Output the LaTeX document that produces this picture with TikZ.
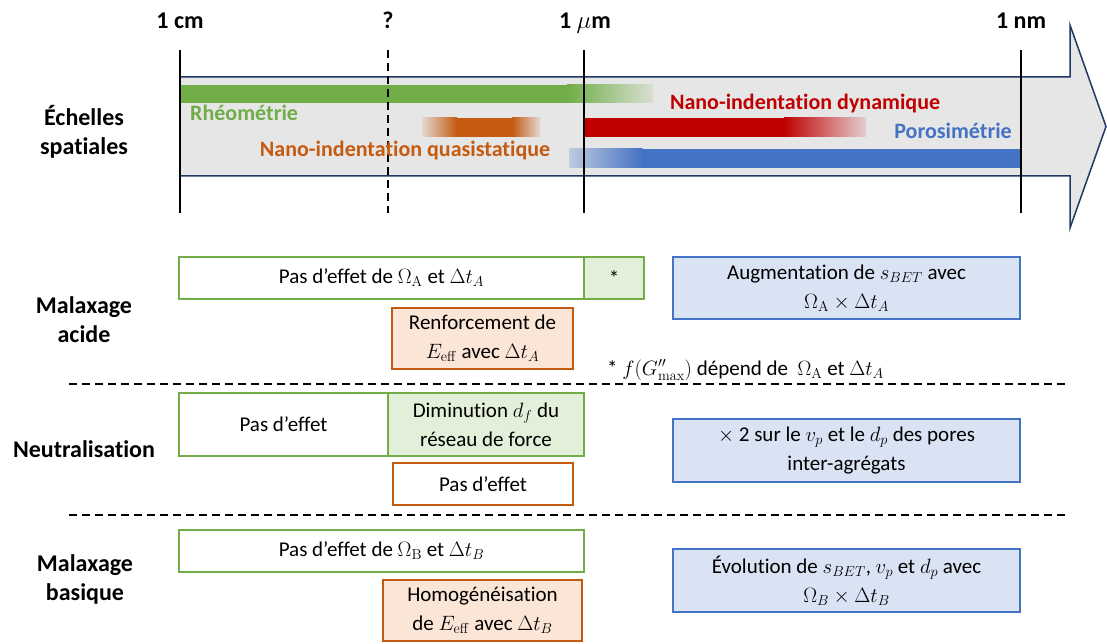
\documentclass[tikz,border=0pt]{standalone}
\usepackage[no-math]{fontspec}
\setmainfont[Ligatures={TeX,CommonOff}]{Carlito}
\DeclareMathSizes{21}{21}{15}{12}
\DeclareMathSizes{24}{24}{17}{12}
\definecolor{bgray}{HTML}{E7E6E6}
\definecolor{navy}{HTML}{203864}
\definecolor{cgreen}{HTML}{70AD47}
\definecolor{lgreen}{HTML}{E2F0D9}
\definecolor{corange}{HTML}{C55A11}
\definecolor{lorange}{HTML}{FBE5D6}
\definecolor{cred}{HTML}{C00000}
\definecolor{cblue}{HTML}{4472C4}
\definecolor{lblue}{HTML}{DAE3F3}
\tikzset{
  box/.style={draw, line width=1.5pt, inner sep=0pt, align=center,
    font=\fontsize{21}{29}\selectfont},
  gbox/.style={box, draw=cgreen, fill=white},
  gfbox/.style={box, draw=cgreen, fill=lgreen},
  obox/.style={box, draw=corange, fill=white},
  ofbox/.style={box, draw=corange, fill=lorange},
  bbox/.style={box, draw=cblue, fill=lblue},
  rowlabel/.style={align=center, inner sep=0pt, font=\fontsize{24}{29}\selectfont\bfseries},
  toplabel/.style={inner sep=0pt, font=\fontsize{24}{28}\selectfont\bfseries},
  barlabel/.style={inner sep=0pt, font=\fontsize{22}{26}\selectfont\bfseries},
  tickline/.style={line width=2.5pt, black},
  sepline/.style={line width=1.5pt, black, dash pattern=on 8pt off 5pt},
}
\begin{document}
\begin{tikzpicture}[x=1pt,y=-1pt]
\useasboundingbox (0,0) rectangle (1107,644);
% big arrow
\draw[navy, line width=1.5pt, fill=bgray, line join=miter]
  (180,77) -- (1070,77) -- (1070,25) -- (1106,126.5) -- (1070,228) -- (1070,176) -- (180,176) -- cycle;
% bars
\fill[cgreen] (180,85) rectangle (567,103);
\shade[left color=cgreen, right color=cgreen!12!bgray] (567,85) rectangle (653,103);
\shade[left color=corange!10!bgray, right color=corange] (422,118) rectangle (457,137);
\fill[corange] (456.5,118) rectangle (512.5,137);
\shade[left color=corange, right color=corange!10!bgray] (512,118) rectangle (540,137);
\fill[cred] (584,118) rectangle (784.5,137);
\shade[left color=cred, right color=cred!10!bgray] (784,118) rectangle (866,137);
\shade[left color=cblue!25!bgray, right color=cblue] (569.5,149) rectangle (642.5,168);
\fill[cblue] (642,149) rectangle (1021,168);
% ticks
\draw[tickline] (180,50) -- (180,213);
\draw[tickline, dash pattern=on 8pt off 5pt] (388,50) -- (388,213);
\draw[tickline] (584,50) -- (584,213);
\draw[tickline] (1021,50) -- (1021,213);
% scale labels
\node[toplabel, anchor=base] (l1) at (180,29) {1 cm};
\node[toplabel, anchor=base] (l2) at (388,29) {?};
\node[toplabel, anchor=base] (l3) at (585,29) {1 $\mu$m};
\node[toplabel, anchor=base] (l4) at (1021,29) {1 nm};
% bar labels
\node[barlabel, text=cgreen, anchor=base west] (rheo) at (190,121) {Rhéométrie};
\node[barlabel, text=corange, anchor=base] (nqs) at (405,157) {Nano-indentation quasistatique};
\node[barlabel, text=cred, anchor=base] (ndyn) at (805,110) {Nano-indentation dynamique};
\node[barlabel, text=cblue, anchor=base east] (poro) at (1012,139) {Porosimétrie};
% row labels
\node[rowlabel] (ech) at (84,132) {Échelles\\spatiales};
\node[rowlabel] (mac) at (84,320) {Malaxage\\acide};
\node[rowlabel] (neu) at (84,449) {Neutralisation};
\node[rowlabel] (mba) at (85,579) {Malaxage\\basique};
% separators
\draw[sepline] (69,384) -- (1066,384);
\draw[sepline] (69,515) -- (1067,515);
% row 1
\node[gbox, minimum width=405pt, minimum height=42pt] (gA) at (381.5,278) {Pas d’effet de $\Omega_{\mathrm{A}}$ et $\Delta t_A$};
\node[gfbox, minimum width=60pt, minimum height=42pt] (gAs) at (614,278) {*};
\node[ofbox, minimum width=181pt, minimum height=61pt] (oA) at (482.5,338.5) {Renforcement de\\$E_{\mathrm{eff}}$ avec $\Delta t_A$};
\node[bbox, minimum width=347pt, minimum height=62pt] (bA) at (846.5,288) {Augmentation de $s_{BET}$ avec\\$\Omega_{\mathrm{A}}\times\Delta t_A$};
\node[inner sep=0pt, anchor=base west, font=\fontsize{21}{29}\selectfont] (note) at (607,375) {* $f(G''_{\mathrm{max}})$ dépend de~ $\Omega_{\mathrm{A}}$ et $\Delta t_A$};
% row 2
\node[gbox, minimum width=209pt, minimum height=63pt] (gN1) at (283.5,424.5) {Pas d’effet};
\node[gfbox, minimum width=196pt, minimum height=63pt] (gN2) at (486,424.5) {Diminution $d_f$ du\\réseau de force};
\node[obox, minimum width=180pt, minimum height=42pt] (oN) at (483,484) {Pas d’effet};
\node[bbox, minimum width=347pt, minimum height=63pt] (bN) at (846.5,450.5) {$\times$ 2 sur le $v_p$ et le $d_p$ des pores\\inter-agrégats};
% row 3
\node[gbox, minimum width=405pt, minimum height=42pt] (gB) at (381.5,551) {Pas d’effet de $\Omega_{\mathrm{B}}$ et $\Delta t_B$};
\node[ofbox, minimum width=199pt, minimum height=61pt] (oB) at (482.5,610.5) {Homogénéisation\\de $E_{\mathrm{eff}}$ avec $\Delta t_B$};
\node[bbox, minimum width=347pt, minimum height=63pt] (bB) at (846.5,580.5) {Évolution de $s_{BET}$, $v_p$ et $d_p$ avec\\$\Omega_B\times\Delta t_B$};
\end{tikzpicture}
\end{document}
